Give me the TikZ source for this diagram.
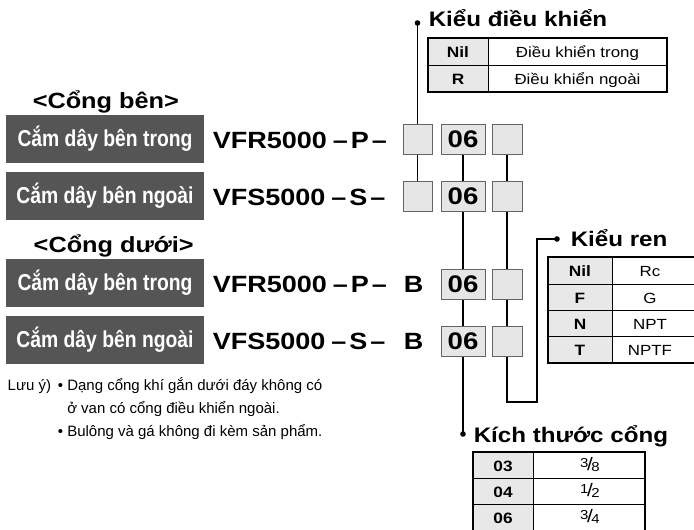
\documentclass[tikz,border=0pt]{standalone}
\usepackage{fontspec}
\setmainfont[FakeStretch=1.15]{Liberation Sans}
\newfontfamily\narrowfont[FakeStretch=0.84]{Liberation Sans}
\newfontfamily\notefont{Liberation Sans}

\definecolor{labelgray}{RGB}{85,85,85}
\definecolor{cellgray}{RGB}{230,230,230}
\definecolor{edgegray}{RGB}{100,100,100}
\definecolor{headgray}{RGB}{232,232,232}

% kleine Bruchzahl mit Schraegstrich
\newcommand{\slfrac}[2]{\raisebox{0.45ex}{\fontsize{13}{13}\selectfont#1}\kern-0.14em{\fontsize{18}{18}\selectfont/}\kern-0.14em\raisebox{-0.35ex}{\fontsize{13}{13}\selectfont#2}}

\tikzset{
  portlabel/.style={fill=labelgray, text=white, minimum width=198pt, minimum height=48pt, inner sep=0pt,
    font=\narrowfont\bfseries\fontsize{23}{26}\selectfont},
  heading/.style={anchor=base west, inner sep=0pt, font=\bfseries\fontsize{22}{26}\selectfont},
  partcode/.style={anchor=base west, inner sep=0pt, font=\bfseries\fontsize{23.5}{27}\selectfont},
  slot/.style={draw=edgegray, line width=1pt, fill=cellgray, minimum height=30pt, inner sep=0pt,
    font=\bfseries\fontsize{24}{27}\selectfont},
  grouptitle/.style={anchor=base west, inner sep=0pt, font=\bfseries\fontsize{21}{24}\selectfont},
  keycell/.style={anchor=base, inner sep=0pt, font=\bfseries\fontsize{15}{17}\selectfont},
  valcell/.style={anchor=base, inner sep=0pt, font=\fontsize{14.7}{17}\selectfont},
  notetext/.style={anchor=base west, inner sep=0pt, font=\notefont\fontsize{15}{18}\selectfont},
  outline/.style={line width=1.2pt},
  gridline/.style={line width=0.8pt},
}

\begin{document}
\begin{tikzpicture}[x=1pt, y=-1pt, line width=1.5pt]
  \useasboundingbox (0,0) rectangle (694,530);

  % linke Seite
  \node[heading] (sidehead) at (32,108) {<Cổng bên>};
  \node[heading] (basehead) at (33,252) {<Cổng dưới>};
  \node[portlabel] (sideIn) at (105,139) {Cắm dây bên trong};
  \node[portlabel] (sideOut) at (105,195.5) {Cắm dây bên ngoài};
  \node[portlabel] (baseIn) at (105,283) {Cắm dây bên trong};
  \node[portlabel] (baseOut) at (105,339.5) {Cắm dây bên ngoài};

  \node[partcode] (sideInCode) at (212,148) {VFR5000\kern6pt–\kern3ptP\kern3pt–};
  \node[partcode] (sideOutCode) at (212,205) {VFS5000\kern6pt–\kern3ptS\kern3pt–};
  \node[partcode] (baseInCode) at (212,292.5) {VFR5000\kern6pt–\kern3ptP\kern3pt–};
  \node[partcode] (baseOutCode) at (212,349.5) {VFS5000\kern6pt–\kern3ptS\kern3pt–};
  \node[partcode] (baseInB) at (403,292.5) {B};
  \node[partcode] (baseOutB) at (403,349.5) {B};

  % Kaestchen
  \node[slot, minimum width=29pt] (ctl1) at (417.5,139.5) {};
  \node[slot, minimum width=29pt] (ctl2) at (417.5,196.5) {};
  \node[slot, minimum width=44pt] (size1) at (463,139.5) {06};
  \node[slot, minimum width=44pt] (size2) at (463,196.5) {06};
  \node[slot, minimum width=44pt] (size3) at (463,284) {06};
  \node[slot, minimum width=44pt] (size4) at (463,341) {06};
  \node[slot, minimum width=30pt] (thr1) at (507,139.5) {};
  \node[slot, minimum width=30pt] (thr2) at (507,196.5) {};
  \node[slot, minimum width=30pt] (thr3) at (507,284) {};
  \node[slot, minimum width=30pt] (thr4) at (507,341) {};

  % Verbindungen
  \coordinate (ctldot) at (417.5,23);
  \coordinate (sizedot) at (463,434);
  \coordinate (thrbend) at (537,402);
  \coordinate (thrdot) at (557,239);
  \draw (ctl1.north) -- (ctldot);
  \draw (ctl1.south) -- (ctl2.north);
  \draw (size1.south) -- (size2.north);
  \draw (size2.south) -- (size3.north);
  \draw (size3.south) -- (size4.north);
  \draw (size4.south) -- (sizedot);
  \draw (thr1.south) -- (thr2.north);
  \draw (thr2.south) -- (thr3.north);
  \draw (thr3.south) -- (thr4.north);
  \draw (thr4.south) |- (thrbend) |- (thrdot);
  \fill (ctldot) circle[radius=2.8pt];
  \fill (sizedot) circle[radius=2.8pt];
  \fill (thrdot) circle[radius=2.8pt];

  % Kieu dieu khien
  \node[grouptitle] (ctltitle) at (428,27) {Kiểu điều khiển};
  \fill[headgray] (428,38) rectangle (488,92);
  \draw[gridline] (428,65) -- (667,65);
  \draw[gridline] (488,38) -- (488,92);
  \draw[outline] (428,38) rectangle (667,92);
  \node[keycell] (ctlk1) at (458,57.5) {Nil};
  \node[valcell] (ctlv1) at (577.5,57.5) {Điều khiển trong};
  \node[keycell] (ctlk2) at (458,84.5) {R};
  \node[valcell] (ctlv2) at (577.5,84.5) {Điều khiển ngoài};

  % Kieu ren
  \node[grouptitle] (thrtitle) at (570,246) {Kiểu ren};
  \fill[headgray] (548,257) rectangle (612,363);
  \draw[gridline] (548,284) -- (697,284);
  \draw[gridline] (548,310.5) -- (697,310.5);
  \draw[gridline] (548,336.5) -- (697,336.5);
  \draw[gridline] (612,257) -- (612,363);
  \draw[outline] (548,257) rectangle (697,363);
  \node[keycell] (thrk1) at (580,276.5) {Nil};
  \node[valcell] (thrv1) at (650,276.5) {Rc};
  \node[keycell] (thrk2) at (580,303) {F};
  \node[valcell] (thrv2) at (650,303) {G};
  \node[keycell] (thrk3) at (580,329.5) {N};
  \node[valcell] (thrv3) at (650,329.5) {NPT};
  \node[keycell] (thrk4) at (580,355.5) {T};
  \node[valcell] (thrv4) at (650,355.5) {NPTF};

  % Kich thuoc cong
  \node[grouptitle] (sizetitle) at (473,442) {Kích thước cổng};
  \fill[headgray] (473,452) rectangle (533,531);
  \draw[gridline] (473,478) -- (645,478);
  \draw[gridline] (473,504) -- (645,504);
  \draw[gridline] (533,452) -- (533,531);
  \draw[outline] (473,452) rectangle (645,530.4);
  \node[keycell] (sizek1) at (503,471) {03};
  \node[keycell] (sizek2) at (503,497) {04};
  \node[keycell] (sizek3) at (503,523) {06};
  \node[inner sep=0pt] (sizev1) at (590,464.5) {\slfrac{3}{8}};
  \node[inner sep=0pt] (sizev2) at (590,490.5) {\slfrac{1}{2}};
  \node[inner sep=0pt] (sizev3) at (590,516.5) {\slfrac{3}{4}};

  % Hinweise
  \node[notetext] (noteHead) at (7,390.7) {Lưu ý)};
  \node[notetext] (noteDot1) at (57,390.7) {•};
  \node[notetext] (noteA) at (66.5,390.7) {Dạng cổng khí gắn dưới đáy không có};
  \node[notetext] (noteB) at (66.5,413.3) {ở van có cổng điều khiển ngoài.};
  \node[notetext] (noteDot2) at (57,436) {•};
  \node[notetext] (noteC) at (66.5,436) {Bulông và gá không đi kèm sản phẩm.};
\end{tikzpicture}
\end{document}
